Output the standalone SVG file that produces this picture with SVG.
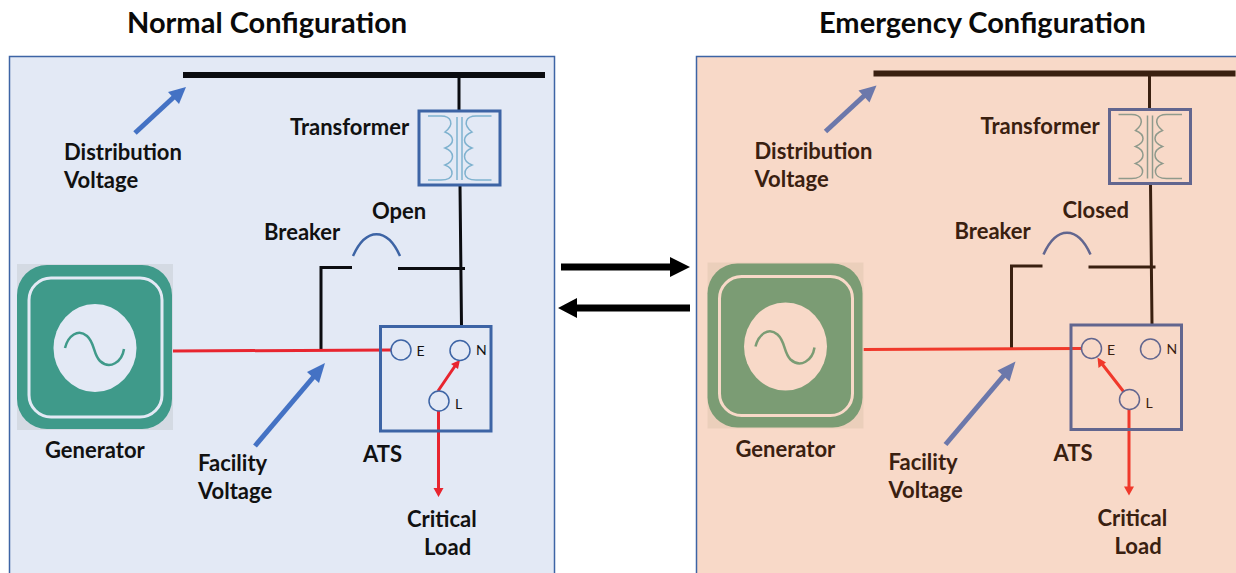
<svg xmlns="http://www.w3.org/2000/svg" width="1236" height="573" viewBox="0 0 1236 573">
<style>
text{font-family:Lato,"Open Sans","Liberation Sans",sans-serif;font-weight:700;font-size:22px}
.title{font-size:29px;fill:#0a0a0a}
.small{font-size:14px;font-weight:400}
.panel{stroke:#3d64a5;stroke-width:1.5}
.wire{fill:none;stroke-width:3}
.bus{stroke-width:6;fill:none}
.red{fill:none;stroke-width:3}
.box{fill:none;stroke-width:3}
.pin{stroke-width:1.500}
.ptr{fill:none;stroke-width:5}
.coil{fill:none;stroke-width:1.500}
.normal text{fill:#111}
.normal .panel{fill:#e3e9f5}
.normal .wire,.normal .bus{stroke:#0b0c10}
.normal .red{stroke:#e8252f}
.normal .redf{fill:#e8252f}
.normal .box{stroke:#3d64a5}
.normal .pin{stroke:#3d64a5;fill:#e3e9f5}
.normal .ptr{stroke:#4472c4}
.normal .ptrf{fill:#4472c4}
.normal .arc{fill:none;stroke:#3d64a5;stroke-width:2.500}
.normal .coil{stroke:#7fb2cf}
.normal .halo{fill:#d4dae3}
.normal .gen{fill:#3f9a8a}
.normal .gl{fill:none;stroke:#e3e9f5;stroke-width:3}
.normal .disc{fill:#e3e9f5}
.normal .sine{fill:none;stroke:#3f9a8a;stroke-width:2.500}
.emergency text{fill:#3a2010}
.emergency .panel{fill:#f8d9c8}
.emergency .wire,.emergency .bus{stroke:#3a2010}
.emergency .red{stroke:#f0392b}
.emergency .redf{fill:#f0392b}
.emergency .box{stroke:#62668f}
.emergency .pin{stroke:#62668f;fill:#f8d9c8}
.emergency .ptr{stroke:#6c78ab}
.emergency .ptrf{fill:#6c78ab}
.emergency .arc{fill:none;stroke:#62668f;stroke-width:2.500}
.emergency .coil{stroke:#8f9a8c}
.emergency .halo{fill:#ebcfbb}
.emergency .gen{fill:#7b9c74}
.emergency .gl{fill:none;stroke:#f8d9c8;stroke-width:3}
.emergency .disc{fill:#f8d9c8}
.emergency .sine{fill:none;stroke:#7b9c74;stroke-width:2.500}
</style>
<text class="title" x="127" y="33">Normal Configuration</text>
<text class="title" x="819" y="33">Emergency Configuration</text>

<g id="normal" class="normal">
<rect class="panel" x="9.500" y="56.500" width="545" height="520"/>
<g id="connectors-normal">
<path class="bus" d="M183 75H545"/>
<path class="wire" d="M459 75V111M460 185L461.500 326M321 350V267.500H352M398 268.500H465"/>
<path class="red" d="M173 351L391 350M438 391L455 366M438.500 411V490"/>
<path class="redf" d="M460 360L451 364L458 369ZM438.500 497L433.500 488H443.500Z"/>
<path class="ptr" d="M135 133L175 96"/>
<path class="ptrf" d="M186 87L168 92L179 104Z"/>
<path class="ptr" d="M255 446L316 374"/>
<path class="ptrf" d="M325 363L307 372L319 383Z"/>
</g>
<g id="distribution-voltage"><text x="64" y="160">Distribution</text><text x="64" y="188">Voltage</text></g>
<g id="transformer">
<text x="290" y="135">Transformer</text>
<rect class="box" x="419" y="111" width="81" height="74"/>
<path class="coil" d="M428 116H441C451 116 455 124 445 132C455 136 455 144 445 148C455 152 455 161 445 165C455 169 455 180 441 180H428M457 117V180M462 117V180M491.500 116H476C466 116 462 124 472 132C462 136 462 144 472 148C462 152 462 161 472 165C462 169 462 180 476 180H491.500"/>
</g>
<g id="breaker">
<text x="264" y="240">Breaker</text>
<text x="372" y="219">Open</text>
<path class="arc" d="M353 256C366 227 387 227 400 256"/>
</g>
<g id="generator">
<rect class="halo" x="17" y="264" width="156" height="166"/>
<rect class="gen" x="17" y="265" width="155" height="164" rx="30"/>
<rect class="gl" x="29" y="278" width="133" height="139" rx="22"/>
<ellipse class="disc" cx="95" cy="348" rx="41.500" ry="44"/>
<path class="sine" d="M65 348C68 336 78 328 87 336C95 343 93 354 100 361C110 370 122 362 124 349"/>
<text x="45" y="458">Generator</text>
</g>
<g id="ats">
<rect class="box" x="380.500" y="326.500" width="110.500" height="104.500"/>
<circle class="pin" cx="401" cy="350" r="10"/>
<circle class="pin" cx="460" cy="350.500" r="10"/>
<circle class="pin" cx="439" cy="401" r="10"/>
<text class="small" x="416.500" y="356">E</text>
<text class="small" x="476" y="355">N</text>
<text class="small" x="455" y="409">L</text>
<text x="363" y="462">ATS</text>
</g>
<g id="facility-voltage"><text x="198" y="471">Facility</text><text x="198" y="499">Voltage</text></g>
<g id="critical-load"><text x="407" y="527">Critical</text><text x="424" y="555">Load</text></g>
</g>

<g id="transition-arrows">
<path fill="#000" d="M561 263.500H670V257L690 267L670 277V270.500H561Z"/>
<path fill="#000" d="M690 304.500H577V298L558 308L577 318V311.500H690Z"/>
</g>

<g id="emergency" class="emergency">
<rect class="panel" x="696.500" y="56.500" width="545" height="520"/>
<g transform="translate(690.500,-1.500)">
<g id="connectors-emergency">
<path class="bus" d="M183 75H545"/>
<path class="wire" d="M459 75V111M460 185L461.500 326M321 350V267.500H352M398 268.500H465"/>
<path class="red" d="M173 351L391 350M433 393L412 366M438.500 411V490"/>
<path class="redf" d="M407 359L408 369.500L415.500 364ZM438.500 497L433.500 488H443.500Z"/>
<path class="ptr" d="M135 133L175 96"/>
<path class="ptrf" d="M186 87L168 92L179 104Z"/>
<path class="ptr" d="M255 446L316 374"/>
<path class="ptrf" d="M325 363L307 372L319 383Z"/>
</g>
<g id="distribution-voltage-e"><text x="64" y="160">Distribution</text><text x="64" y="188">Voltage</text></g>
<g id="transformer-e">
<text x="290" y="135">Transformer</text>
<rect class="box" x="419" y="111" width="81" height="74"/>
<path class="coil" d="M428 116H441C451 116 455 124 445 132C455 136 455 144 445 148C455 152 455 161 445 165C455 169 455 180 441 180H428M457 117V180M462 117V180M491.500 116H476C466 116 462 124 472 132C462 136 462 144 472 148C462 152 462 161 472 165C462 169 462 180 476 180H491.500"/>
</g>
<g id="breaker-e">
<text x="264" y="240">Breaker</text>
<text x="372" y="219">Closed</text>
<path class="arc" d="M353 256C366 227 387 227 400 256"/>
</g>
<g id="generator-e">
<rect class="halo" x="17" y="264" width="156" height="166"/>
<rect class="gen" x="17" y="265" width="155" height="164" rx="30"/>
<rect class="gl" x="29" y="278" width="133" height="139" rx="22"/>
<ellipse class="disc" cx="95" cy="348" rx="41.500" ry="44"/>
<path class="sine" d="M65 348C68 336 78 328 87 336C95 343 93 354 100 361C110 370 122 362 124 349"/>
<text x="45" y="458">Generator</text>
</g>
<g id="ats-e">
<rect class="box" x="380.500" y="326.500" width="110.500" height="104.500"/>
<circle class="pin" cx="401" cy="350" r="10"/>
<circle class="pin" cx="460" cy="350.500" r="10"/>
<circle class="pin" cx="439" cy="401" r="10"/>
<text class="small" x="416.500" y="356">E</text>
<text class="small" x="476" y="355">N</text>
<text class="small" x="455" y="409">L</text>
<text x="363" y="462">ATS</text>
</g>
<g id="facility-voltage-e"><text x="198" y="471">Facility</text><text x="198" y="499">Voltage</text></g>
<g id="critical-load-e"><text x="407" y="527">Critical</text><text x="424" y="555">Load</text></g>
</g>
</g>
</svg>
